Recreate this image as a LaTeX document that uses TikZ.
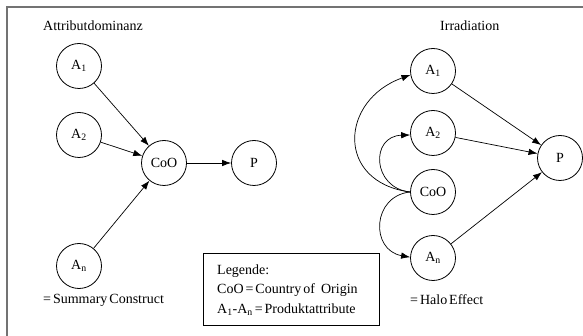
\documentclass[tikz,border=0pt]{standalone}
\usepackage{fontspec}
\setmainfont{Liberation Serif}
\usetikzlibrary{arrows.meta}
% text size with narrow word spaces
\newcommand\diagfont{\fontsize{14}{16}\selectfont\spaceskip=0.14em\relax}
\begin{document}
\begin{tikzpicture}[x=1pt,y=-1pt,
  every node/.style={font=\diagfont},
  var/.style={circle,draw,line width=0.8pt,minimum size=45pt,inner sep=0pt},
  link/.style={line width=0.7pt,-{Latex[length=9pt,width=6.5pt]}},
  frame/.style={draw=black!55,line width=1.6pt},
  label/.style={anchor=west,inner sep=0pt}]
\useasboundingbox (0,0) rectangle (583,336);
% outer frame (top and left edges)
\draw[frame] (7,336) -- (7,7) -- (583,7);

% ---- Attributdominanz ----
\node[label] (tl) at (43,26) {Attributdominanz};
\node[var] (la1) at (79,66) {A\textsubscript{1}};
\node[var] (la2) at (79,135) {A\textsubscript{2}};
\node[var] (lan) at (79,266) {A\textsubscript{n}};
\node[var] (lco) at (164,163) {CoO};
\node[var] (lp)  at (254,163) {P};
\draw[link] (la1) -- (lco);
\draw[link] (la2) -- (lco);
\draw[link] (lan) -- (lco);
\draw[link] (lco) -- (lp);
\node[label] (ls) at (43,300) {= Summary Construct};

% ---- Irradiation ----
\node[label] (tr) at (440,26) {Irradiation};
\node[var] (ra1) at (433,71) {A\textsubscript{1}};
\node[var] (ra2) at (433,133) {A\textsubscript{2}};
\node[var] (rco) at (433,192) {CoO};
\node[var] (ran) at (433,258) {A\textsubscript{n}};
\node[var] (rp)  at (560,158) {P};
\draw[link] (ra1) -- (rp);
\draw[link] (ra2) -- (rp);
\draw[link] (ran) -- (rp);
\draw[link] (rco.west) .. controls (335,182) and (340,100) .. (ra1.190);
\draw[link] (rco.west) .. controls (372,188) and (370,136) .. (ra2.185);
\draw[link] (rco.west) .. controls (372,196) and (370,250) .. (ran.178);
\node[label] (rs) at (410,300) {= Halo Effect};

% ---- legend ----
\node[draw,line width=0.8pt,minimum width=176pt,minimum height=72pt,anchor=north west,inner sep=0pt] (leg) at (203,253) {};
\node[label] (lg1) at (217,271) {Legende:};
\node[label] (lg2) at (217,290) {CoO = Country of\hspace{0.3em} Origin};
\node[label] (lg3) at (217,310) {A\textsubscript{1}-A\textsubscript{n} = Produktattribute};
\end{tikzpicture}
\end{document}
